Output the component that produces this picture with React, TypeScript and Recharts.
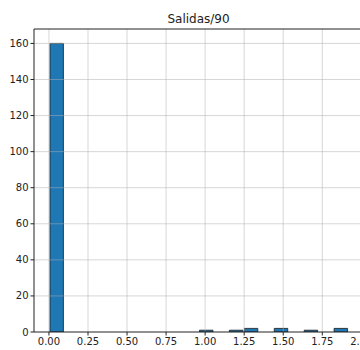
import React from 'react';
import {
  BarChart, Bar, XAxis, YAxis, ReferenceLine,
} from 'recharts';

// histogram of Salidas/90: 20 bins from 0 to 1.915
const BIN_WIDTH = 0.09575;
const COUNTS = [160, 0, 0, 0, 0, 0, 0, 0, 0, 0, 1, 0, 1, 2, 0, 2, 0, 1, 0, 2];
const X_TICKS = [0, 0.25, 0.5, 0.75, 1, 1.25, 1.5, 1.75, 2];
const Y_TICKS = [0, 20, 40, 60, 80, 100, 120, 140, 160];

const DATA_MAX = BIN_WIDTH * COUNTS.length;
const X_MIN = -0.05 * DATA_MAX;
const X_MAX = DATA_MAX * 1.05;
const Y_MAX = 168;

const data = COUNTS.map((count, i) => ({ x: (i + 0.5) * BIN_WIDTH, count }));

const CHART_W = 370;
const CHART_H = 350;
const MARGIN = { top: 29, right: 7, left: 0, bottom: 0 };
const Y_AXIS_W = 34;
const PLOT_W = CHART_W - MARGIN.left - MARGIN.right - Y_AXIS_W;
const BAR_PX = (BIN_WIDTH / (X_MAX - X_MIN)) * PLOT_W;

const tickStyle = { fontSize: 10, fill: '#222', fontFamily: 'DejaVu Sans' };
const GRID = { stroke: '#b0b0b0', strokeOpacity: 0.5, strokeWidth: 1 };

export default function App() {
  return (
    <div style={{ position: 'fixed', left: 0, top: 0, width: 360, height: 350, overflow: 'hidden', background: '#fff' }}>
      <div style={{
        position: 'absolute', left: 34, width: 329, top: 12, textAlign: 'center',
        fontFamily: 'DejaVu Sans', fontSize: 12, color: '#222',
      }}>
        Salidas/90
      </div>
      <BarChart width={CHART_W} height={CHART_H} data={data} margin={MARGIN} barGap={0} barCategoryGap={0}>
        <XAxis
          dataKey="x"
          type="number"
          domain={[X_MIN, X_MAX]}
          allowDataOverflow
          ticks={X_TICKS}
          interval={0}
          tickFormatter={(v: number) => v.toFixed(2)}
          height={18}
          tickSize={3.5}
          tick={tickStyle}
          stroke="#222"
        />
        <YAxis
          type="number"
          domain={[0, Y_MAX]}
          allowDataOverflow
          ticks={Y_TICKS}
          interval={0}
          width={Y_AXIS_W}
          tickSize={3.5}
          tick={tickStyle}
          stroke="#222"
        />
        <Bar dataKey="count" fill="#1f77b4" stroke="#1a1a1a" strokeWidth={0.8} barSize={BAR_PX} isAnimationActive={false} />
        {/* grid sits above the bars, as in the source plot */}
        {Y_TICKS.filter((t) => t > 0).map((t) => (
          <ReferenceLine key={`y${t}`} y={t} {...GRID} />
        ))}
        {X_TICKS.map((t) => (
          <ReferenceLine key={`x${t}`} x={t} {...GRID} />
        ))}
        <ReferenceLine y={Y_MAX} stroke="#222" strokeWidth={1} />
      </BarChart>
    </div>
  );
}
